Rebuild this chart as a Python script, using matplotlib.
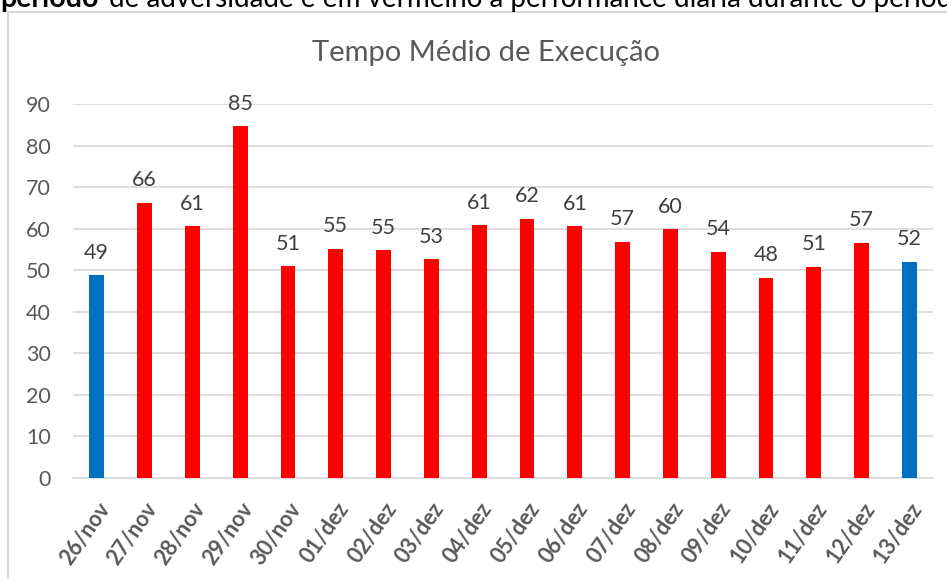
import matplotlib
matplotlib.use("Agg")
import matplotlib.pyplot as plt
from matplotlib.patches import Rectangle

categories = ["26/nov", "27/nov", "28/nov", "29/nov", "30/nov", "01/dez", "02/dez",
              "03/dez", "04/dez", "05/dez", "06/dez", "07/dez", "08/dez", "09/dez",
              "10/dez", "11/dez", "12/dez", "13/dez"]
values = [48.8, 66.2, 60.6, 84.6, 51.0, 55.2, 54.8, 52.6, 60.8, 62.4, 60.6, 56.9,
          59.9, 54.4, 48.2, 50.8, 56.6, 52.0]
labels = [49, 66, 61, 85, 51, 55, 55, 53, 61, 62, 61, 57, 60, 54, 48, 51, 57, 52]
reference_days = ["26/nov", "13/dez"]
yticks = [0, 10, 20, 30, 40, 50, 60, 70, 80, 90]

RED = "#FF0000"
BLUE = "#0070C0"
FONT = ["Lato", "DejaVu Sans"]
plt.rcParams["font.family"] = FONT

fig = plt.figure(figsize=(9.47, 5.79), dpi=100)

# outer chart border
fig.patches.append(Rectangle((8 / 947, -0.05), 1.0, (579 - 12) / 579 + 0.05,
                             transform=fig.transFigure, fill=False,
                             edgecolor="#d9d9d9", linewidth=1.5))

# clipped text line above chart
fig.text(0.0, 1 - 7 / 579, "período", fontsize=20.5, fontweight="bold",
         color="black", va="baseline", ha="left", family=FONT)
fig.text(109 / 947, 1 - 7 / 579,
         "de adversidade e em vermelho a performance diária durante o período",
         fontsize=20, color="black", va="baseline", ha="left", family=FONT)

ax = fig.add_axes([72.8 / 947, 101 / 579, 860.6 / 947, 374 / 579])
x = list(range(len(categories)))
colors = [BLUE if c in reference_days else RED for c in categories]
ax.bar(x, values, width=0.31, color=colors, zorder=3)

for xi, v, lab in zip(x, values, labels):
    ax.annotate(str(lab), (xi, v), xytext=(0, 9), textcoords="offset points",
                ha="center", va="bottom", fontsize=15.5, color="#404040",
                annotation_clip=False)

ax.set_xlim(-0.5, len(categories) - 0.5)
ax.set_ylim(0, 90)
ax.set_yticks(yticks)
ax.set_yticklabels([str(t) for t in yticks], fontsize=15.5, color="#595959")
ax.set_xticks(x)
ax.set_xticklabels(categories, rotation=55, ha="right", rotation_mode="anchor",
                   fontsize=15.5, fontweight="bold", color="#595959")
ax.tick_params(axis="both", length=0)
ax.tick_params(axis="y", pad=16)
ax.tick_params(axis="x", pad=15)
ax.grid(axis="y", color="#d9d9d9", linewidth=1.2, zorder=0)
for s in ["top", "right", "left"]:
    ax.spines[s].set_visible(False)
ax.spines["bottom"].set_color("#d9d9d9")
ax.spines["bottom"].set_linewidth(1.2)

fig.text(486 / 947, 1 - 53 / 579, "Tempo Médio de Execução", fontsize=21,
         color="#595959", ha="center", va="center")

fig.savefig("out.png", dpi=100)
